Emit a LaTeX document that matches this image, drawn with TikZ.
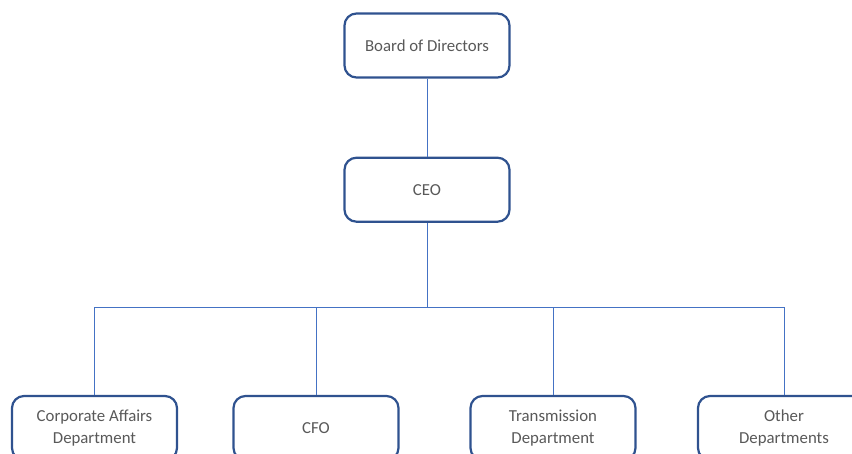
\documentclass[tikz,border=0pt]{standalone}
\usepackage{fontspec}
\setmainfont{Carlito}
\usetikzlibrary{positioning}
\definecolor{boxline}{HTML}{2F528F}
\definecolor{linkline}{HTML}{4472C4}
\definecolor{labeltext}{HTML}{595959}
\begin{document}
\begin{tikzpicture}[x=1pt,y=-1pt,node distance=78pt,
      main node/.style={draw=boxline,line width=2.2pt,rounded corners=12pt,fill=white,
        minimum width=165pt,minimum height=64pt,align=center,text=labeltext,
        font=\fontsize{16.8}{21.5}\selectfont},
      link/.style={draw=linkline,line width=0.9pt}]
      \clip (0,0) rectangle (852,454);


      \node[main node] (board) at (427,45.5) {Board of Directors};
      \node[main node] (ceo) [below=of board] {CEO};
      \coordinate (bus) at (427,307);
      \node[main node] (corp) at (94.5,428) {Corporate Affairs\\Department};
      \node[main node] (cfo) at (316,428) {CFO};
      \node[main node] (trans) at (553,428) {Transmission\\Department};
      \node[main node,minimum width=172pt] (other) at (784,428) {Other\\Departments};


      \path[link]
        (board) edge (ceo)
        (ceo) edge (bus);
      \draw[link] (bus) -| (corp);
      \draw[link] (bus) -| (cfo);
      \draw[link] (bus) -| (trans);
      \draw[link] (bus) -| (other);
    \end{tikzpicture}
\end{document}
